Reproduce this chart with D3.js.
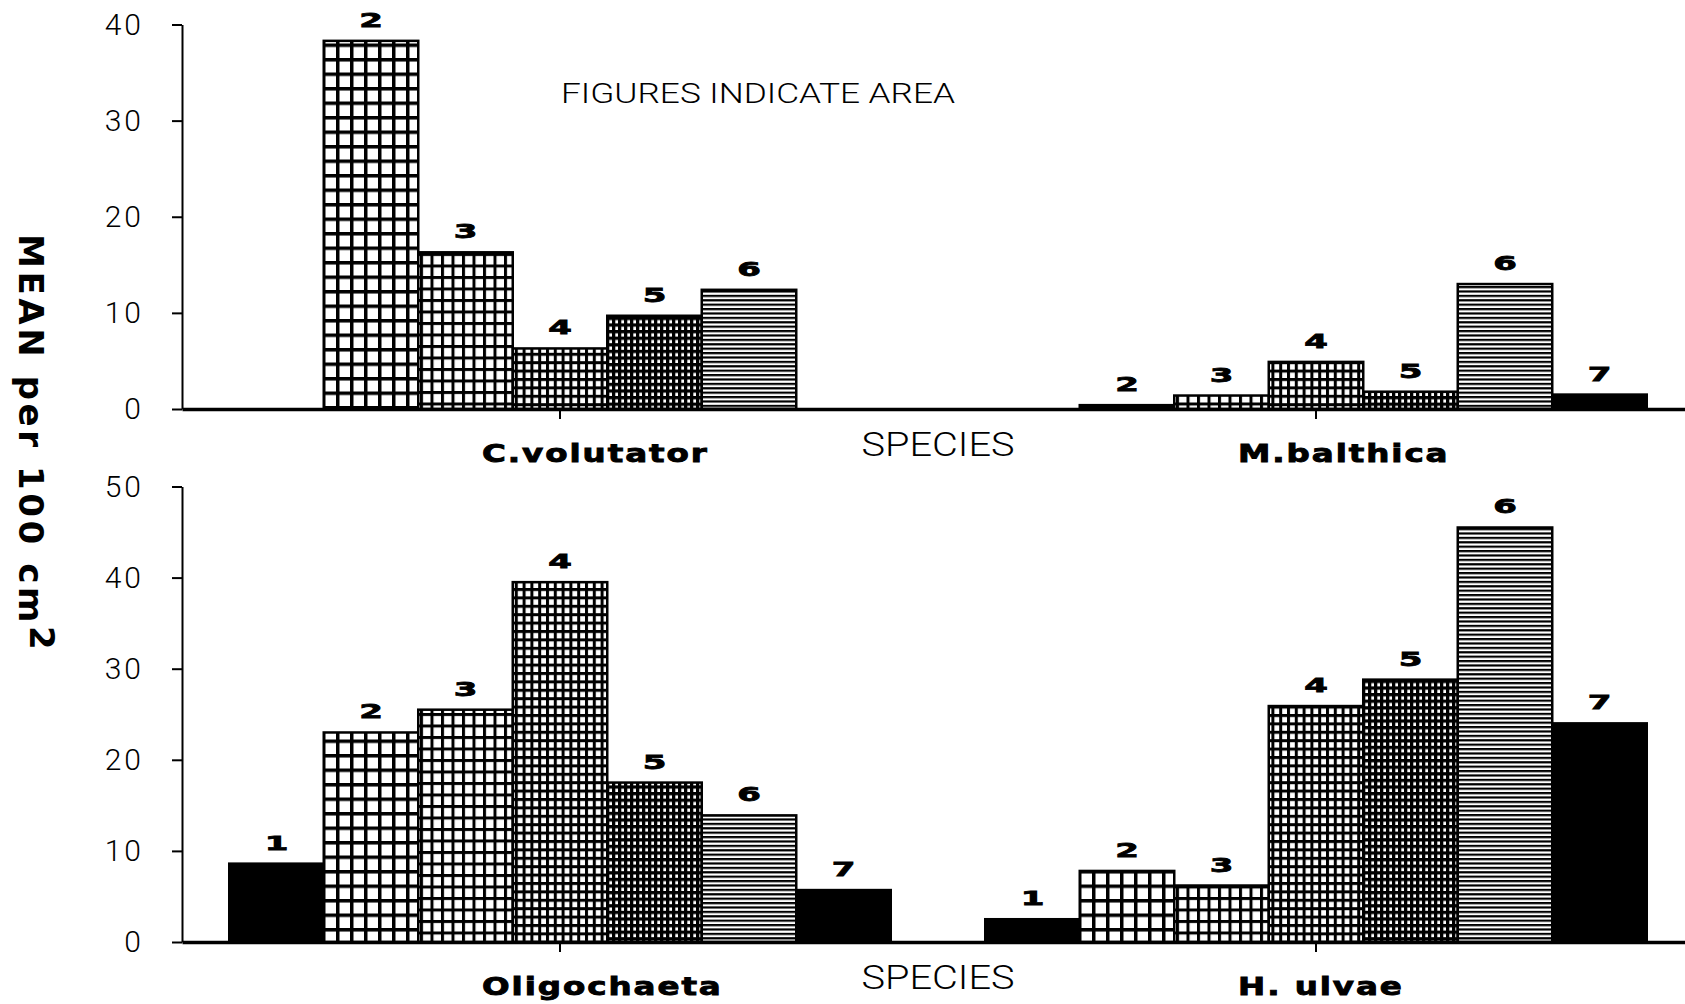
<!DOCTYPE html>
<html>
<head>
<meta charset="utf-8">
<script src="https://cdn.jsdelivr.net/npm/d3@7"></script>
<style>
  body { margin: 0; background: #fff; }
  svg { display: block; }
</style>
</head>
<body>
<div id="chart"></div>
<script>
// areas (bar labels) and species
const areas = ["1", "2", "3", "4", "5", "6", "7"];
const topSpecies = ["C.volutator", "M.balthica"];
const bottomSpecies = ["Oligochaeta", "H. ulvae"];

// mean per 100 cm2 by area (null = no bar)
const cVolutator = [null, 38.3, 16.3, 6.3, 9.7, 12.4, null];
const mBalthica = [null, 0.4, 1.4, 4.9, 1.8, 13.0, 1.5];
const oligochaeta = [8.6, 23.0, 25.5, 39.5, 17.5, 13.9, 5.7];
const hUlvae = [2.5, 7.8, 6.2, 25.9, 28.8, 45.5, 24.0];

const topTicks = [0, 10, 20, 30, 40];
const bottomTicks = [0, 10, 20, 30, 40, 50];

const width = 1685, height = 1004;
const plotFont = "Roboto, 'DejaVu Sans', sans-serif";
const boldFont = "'DejaVu Sans', sans-serif";

const svg = d3.select("#chart")
    .append("svg")
    .attr("width", width)
    .attr("height", height);

// hatch patterns, one per area
const defs = svg.append("defs");
function grid(id, w, h, line) {
    const p = defs.append("pattern").attr("id", id)
        .attr("patternUnits", "userSpaceOnUse")
        .attr("width", w).attr("height", h);
    p.append("rect").attr("width", w).attr("height", h).attr("fill", "#000");
    p.append("rect").attr("x", line).attr("y", line)
        .attr("width", w - line).attr("height", h - line).attr("fill", "#fff");
}
grid("a2", 14, 14.5, 3.5);
grid("a3", 10.5, 11.5, 3);
grid("a4", 7.8, 8.4, 3);
grid("a5", 6, 6.6, 3.3);
const p6 = defs.append("pattern").attr("id", "a6")
    .attr("patternUnits", "userSpaceOnUse")
    .attr("width", 10).attr("height", 4.4);
p6.append("rect").attr("width", 10).attr("height", 4.4).attr("fill", "#fff");
p6.append("rect").attr("width", 10).attr("height", 2.2).attr("fill", "#000");

const fills = ["#000", "url(#a2)", "url(#a3)", "url(#a4)", "url(#a5)", "url(#a6)", "#000"];

function panel(species, series, ticks, yTop, yBottom) {
    const y = d3.scaleLinear()
        .domain([0, d3.max(ticks)])
        .range([yBottom, yTop]);
    const x = d3.scaleBand()
        .domain(species)
        .range([182, 1694])
        .paddingInner(0.125)
        .paddingOuter(0.0625);
    const xa = d3.scaleBand()
        .domain(areas)
        .range([0, x.bandwidth()]);

    const g = svg.append("g");

    // Y axis
    g.append("g")
        .attr("transform", "translate(182,0)")
        .call(d3.axisLeft(y).tickValues(ticks).tickSize(10).tickSizeOuter(0).tickPadding(28))
        .call(a => a.select(".domain").attr("stroke", "#000").attr("stroke-width", 2))
        .call(a => a.selectAll(".tick line").attr("stroke", "#000").attr("stroke-width", 2))
        .call(a => a.selectAll("text")
            .style("font-family", plotFont)
            .style("font-weight", 300)
            .style("font-size", "30px")
            .attr("letter-spacing", 3)
            .attr("fill", "#000"));

    // Bars
    series.forEach((vals, si) => {
        const bars = areas.map((a, i) => ({ area: a, value: vals[i], i: i }))
            .filter(d => d.value != null);
        g.selectAll(null)
            .data(bars)
            .join("rect")
            .attr("x", d => x(species[si]) + xa(d.area))
            .attr("y", d => y(d.value))
            .attr("width", xa.bandwidth())
            .attr("height", d => y(0) - y(d.value))
            .attr("fill", d => fills[d.i])
            .attr("stroke", "#000")
            .attr("stroke-width", 2.5);
        g.selectAll(null)
            .data(bars)
            .join("text")
            .attr("transform", d => `translate(${x(species[si]) + xa(d.area) + xa.bandwidth() / 2},${y(d.value) - 14}) scale(1.7,1)`)
            .attr("text-anchor", "middle")
            .attr("stroke", "#000")
            .attr("stroke-width", 0.8)
            .style("font-family", boldFont)
            .style("font-weight", "bold")
            .style("font-size", "20px")
            .text(d => d.area);
    });

    // X axis (species)
    g.append("g")
        .attr("transform", `translate(0,${y(0)})`)
        .call(d3.axisBottom(x).tickSize(10).tickSizeOuter(0))
        .call(a => a.select(".domain").attr("stroke", "#000").attr("stroke-width", 3.5))
        .call(a => a.selectAll(".tick line").attr("stroke", "#000").attr("stroke-width", 2))
        .call(a => a.selectAll("text")
            .attr("x", -78 / 1.3)
            .attr("y", 53)
            .attr("dy", 0)
            .attr("text-anchor", "start")
            .attr("transform", "scale(1.3,1)")
            .attr("letter-spacing", 1.5)
            .attr("fill", "#000")
            .attr("stroke", "#000")
            .attr("stroke-width", 0.9)
            .style("font-family", boldFont)
            .style("font-weight", "bold")
            .style("font-size", "25px"));

    // SPECIES in the gap between groups
    g.append("text")
        .attr("x", (x(species[0]) + x.bandwidth() + x(species[1])) / 2)
        .attr("y", y(0) + 47)
        .attr("text-anchor", "middle")
        .attr("textLength", 153)
        .attr("lengthAdjust", "spacingAndGlyphs")
        .style("font-family", plotFont)
        .style("font-weight", 300)
        .style("font-size", "33px")
        .text("SPECIES");
}

panel(topSpecies, [cVolutator, mBalthica], topTicks, 24.5, 409);
panel(bottomSpecies, [oligochaeta, hUlvae], bottomTicks, 486.5, 942);

// note in the top panel
svg.append("text")
    .attr("x", 561)
    .attr("y", 103)
    .attr("textLength", 394)
    .attr("lengthAdjust", "spacingAndGlyphs")
    .style("font-family", plotFont)
    .style("font-weight", 300)
    .style("font-size", "28px")
    .text("FIGURES INDICATE AREA");

// Y axis title, reading downward
const yTitle = svg.append("text")
    .attr("transform", "translate(19,234) rotate(90)")
    .attr("letter-spacing", 3.6)
    .style("font-family", boldFont)
    .style("font-weight", "bold")
    .style("font-size", "34px");
yTitle.append("tspan").text("MEAN per 100 cm");
yTitle.append("tspan").attr("dy", -11).text("2");
</script>
</body>
</html>
